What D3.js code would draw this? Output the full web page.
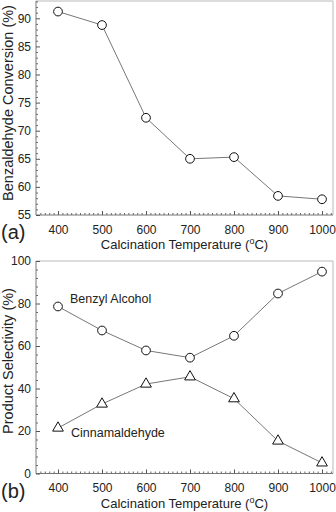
<!DOCTYPE html>
<html>
<head>
<meta charset="utf-8">
<script src="https://cdn.jsdelivr.net/npm/d3@7"></script>
<style>
  body { margin: 0; background: #fff; }
  svg { display: block; font-family: "Liberation Sans", Arial, sans-serif; }
  .tick text { fill: #222; font-size: 12px; }
</style>
</head>
<body>
<svg id="chart" width="336" height="512"></svg>
<script>
// calcination temperatures (°C)
const temps = [400, 500, 600, 700, 800, 900, 1000];
// panel (a)
const conversion = [91.2, 88.8, 72.3, 65.0, 65.3, 58.4, 57.8];
const convTicks = [55, 60, 65, 70, 75, 80, 85, 90];
// panel (b)
const benzylAlcohol = [78.6, 67.3, 57.9, 54.5, 64.8, 84.7, 95.0];
const cinnamaldehyde = [21.4, 32.7, 42.1, 45.5, 35.2, 15.3, 5.0];
const selTicks = [0, 20, 40, 60, 80, 100];
const xTicks = [400, 500, 600, 700, 800, 900, 1000];

const svg = d3.select("#chart");
const left = 36, right = 333;

const x = d3.scaleLinear().domain([350, 1025]).range([left, right]);

function drawPanel(opts) {
  const g = svg.append("g");
  const y = d3.scaleLinear().domain(opts.yDomain).range([opts.bottom, opts.top]);

  // frame (top + right, light grey)
  g.append("path")
    .attr("d", `M${left},${opts.top}H${right}V${opts.bottom}`)
    .attr("fill", "none").attr("stroke", "#b8b8b8").attr("stroke-width", 1);

  // minor ticks
  const xMinor = d3.range(360, 1021, 10).filter(v => v % 100 !== 0);
  g.append("g").attr("transform", `translate(0,${opts.bottom})`)
    .call(d3.axisBottom(x).tickValues(xMinor).tickSize(-2).tickFormat(""))
    .call(a => a.select(".domain").remove())
    .selectAll("line").attr("stroke", "#666");
  const yMinor = d3.range(opts.yDomain[0], opts.yDomain[1] + 0.001, opts.minorStep)
    .filter(v => !opts.yTicks.includes(v));
  g.append("g").attr("transform", `translate(${left},0)`)
    .call(d3.axisLeft(y).tickValues(yMinor).tickSize(-2).tickFormat(""))
    .call(a => a.select(".domain").remove())
    .selectAll("line").attr("stroke", "#666");

  // major axes
  const xa = g.append("g").attr("transform", `translate(0,${opts.bottom})`)
    .call(d3.axisBottom(x).tickValues(xTicks).tickSize(-4).tickPadding(10).tickFormat(d3.format("d")));
  xa.select(".domain").attr("d", `M${left},0H${right}`).attr("stroke", "#777");
  xa.selectAll("line").attr("stroke", "#555");

  const ya = g.append("g").attr("transform", `translate(${left},0)`)
    .call(d3.axisLeft(y).tickValues(opts.yTicks).tickSize(-4).tickPadding(5));
  ya.select(".domain").attr("d", `M0,${opts.top}V${opts.bottom}`).attr("stroke", "#777");
  ya.selectAll("line").attr("stroke", "#555");

  // axis titles
  const xt = g.append("text")
    .attr("x", (left + right) / 2).attr("y", opts.bottom + 34)
    .attr("text-anchor", "middle").attr("font-size", 13).attr("fill", "#222")
    .text("Calcination Temperature (");
  xt.append("tspan").attr("font-size", 9).attr("dy", -5).text("o");
  xt.append("tspan").attr("dy", 5).text("C)");

  g.append("text")
    .attr("transform", `translate(13,${opts.titleY}) rotate(-90)`)
    .attr("text-anchor", "middle").attr("font-size", opts.titleSize).attr("fill", "#222")
    .text(opts.yTitle);

  g.append("text")
    .attr("x", 1).attr("y", opts.bottom + 24)
    .attr("font-size", 20).attr("fill", "#222")
    .text(opts.label);

  return { g, y };
}

function drawSeries(g, y, values, shape) {
  const pts = temps.map((t, i) => [x(t), y(values[i])]);
  g.append("path")
    .attr("d", d3.line()(pts))
    .attr("fill", "none").attr("stroke", "#777").attr("stroke-width", 1);
  g.append("g").selectAll("path")
    .data(pts)
    .join("path")
    .attr("transform", d => `translate(${d[0]},${d[1]})`)
    .attr("d", d3.symbol().type(shape).size(shape === d3.symbolCircle ? 60 : 50))
    .attr("fill", "#fff").attr("stroke", "#111").attr("stroke-width", 1);
}

// panel (a)
const pa = drawPanel({
  top: 1, bottom: 215, yDomain: [55, 93.08], yTicks: convTicks, minorStep: 1,
  yTitle: "Benzaldehyde Conversion (%)", label: "(a)", titleY: 103, titleSize: 14.5
});
drawSeries(pa.g, pa.y, conversion, d3.symbolCircle);

// panel (b)
const pb = drawPanel({
  top: 261, bottom: 473.5, yDomain: [0, 100], yTicks: selTicks, minorStep: 4,
  yTitle: "Product Selectivity (%)", label: "(b)", titleY: 361, titleSize: 14.5
});
drawSeries(pb.g, pb.y, benzylAlcohol, d3.symbolCircle);
drawSeries(pb.g, pb.y, cinnamaldehyde, d3.symbolTriangle);

pb.g.append("text").attr("x", 70).attr("y", 303)
  .attr("font-size", 12.5).attr("fill", "#222").text("Benzyl Alcohol");
pb.g.append("text").attr("x", 71).attr("y", 437)
  .attr("font-size", 12.5).attr("fill", "#222").text("Cinnamaldehyde");
</script>
</body>
</html>
